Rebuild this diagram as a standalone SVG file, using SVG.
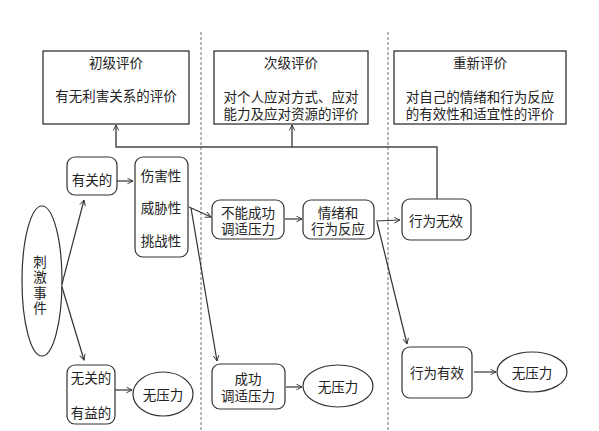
<svg xmlns="http://www.w3.org/2000/svg" width="599" height="431" viewBox="0 0 599 431">
<defs>
<marker id="arr" viewBox="0 0 10 10" refX="9" refY="5" markerWidth="7" markerHeight="7" orient="auto" markerUnits="userSpaceOnUse">
<path d="M1,1 L9,5 L1,9" fill="none" stroke="#333" stroke-width="1.3"/>
</marker>
</defs>
<style>
text{font-family:"Noto Sans CJK SC","Noto Sans CJK JP",sans-serif;font-size:13.5px;fill:#222;text-anchor:middle;dominant-baseline:central}
.vt{writing-mode:vertical-rl;letter-spacing:2px;dominant-baseline:central}
.box{fill:#fff;stroke:#222;stroke-width:1.2}
.rbox{fill:#fff;stroke:#333;stroke-width:1.2}
.ell{fill:#fff;stroke:#333;stroke-width:1.2}
.ln{fill:none;stroke:#333;stroke-width:1.2}
.fb{fill:none;stroke:#444;stroke-width:1.4}
.dash{stroke:#888;stroke-width:1.2;stroke-dasharray:3 2}
</style>
<rect width="599" height="431" fill="#fff"/>
<g id="dividers">
<line class="dash" x1="201" y1="32" x2="201" y2="431"/>
<line class="dash" x1="388" y1="32" x2="388" y2="431"/>
</g>
<g id="primary">
<rect class="box" x="43" y="51" width="146" height="73"/>
<text x="116" y="62">初级评价</text>
<text x="116" y="95">有无利害关系的评价</text>
</g>
<g id="secondary">
<rect class="box" x="214" y="51" width="154" height="73"/>
<text x="291" y="62">次级评价</text>
<text x="291" y="96">对个人应对方式、应对<tspan x="291" dy="17">能力及应对资源的评价</tspan></text>
</g>
<g id="reappraisal">
<rect class="box" x="394" y="51" width="172" height="73"/>
<text x="480" y="62">重新评价</text>
<text x="480" y="96">对自己的情绪和行为反应<tspan x="480" dy="17">的有效性和适宜性的评价</tspan></text>
</g>
<g id="stimulus">
<ellipse class="ell" cx="42" cy="281" rx="20" ry="75"/>
<text class="vt" x="40" y="286">刺激事件</text>
</g>
<g id="relevant">
<rect class="rbox" x="67" y="157" width="50" height="38" rx="8"/>
<text x="92" y="179">有关的</text>
</g>
<g id="harm">
<rect class="rbox" x="135" y="157" width="53" height="100" rx="8"/>
<text x="161" y="175">伤害性</text>
<text x="161" y="207">威胁性</text>
<text x="161" y="240">挑战性</text>
</g>
<g id="irrelevant">
<rect class="rbox" x="67" y="365" width="48" height="59" rx="8"/>
<text x="91" y="377">无关的</text>
<text x="91" y="412">有益的</text>
</g>
<g id="nostress1">
<ellipse class="ell" cx="163" cy="394" rx="30" ry="22"/>
<text x="163" y="394">无压力</text>
</g>
<g id="fail">
<rect class="rbox" x="212" y="200" width="72" height="39" rx="8"/>
<text x="248" y="212">不能成功<tspan x="248" dy="16">调适压力</tspan></text>
</g>
<g id="success">
<rect class="rbox" x="212" y="364" width="73" height="45" rx="8"/>
<text x="248" y="378">成功<tspan x="248" dy="17">调适压力</tspan></text>
</g>
<g id="nostress2">
<ellipse class="ell" cx="338" cy="386" rx="35" ry="21"/>
<text x="338" y="386">无压力</text>
</g>
<g id="emotion">
<rect class="rbox" x="303" y="200" width="71" height="39" rx="8"/>
<text x="338" y="212">情绪和<tspan x="338" dy="16">行为反应</tspan></text>
</g>
<g id="ineffective">
<rect class="rbox" x="402" y="199" width="69" height="41" rx="8"/>
<text x="436" y="220">行为无效</text>
</g>
<g id="effective">
<rect class="rbox" x="402" y="347" width="70" height="51" rx="8"/>
<text x="437" y="372">行为有效</text>
</g>
<g id="nostress3">
<ellipse class="ell" cx="532" cy="372" rx="35" ry="20"/>
<text x="532" y="372">无压力</text>
</g>
<g id="connectors">
<line class="ln" x1="62" y1="284" x2="84" y2="200" marker-end="url(#arr)"/>
<line class="ln" x1="62" y1="287" x2="84" y2="360" marker-end="url(#arr)"/>
<line class="ln" x1="117" y1="181" x2="133" y2="181" marker-end="url(#arr)"/>
<line class="ln" x1="115" y1="390" x2="132" y2="390" marker-end="url(#arr)"/>
<line class="ln" x1="189" y1="207" x2="211" y2="217" marker-end="url(#arr)"/>
<line class="ln" x1="191" y1="208" x2="217" y2="361" marker-end="url(#arr)"/>
<line class="ln" x1="285" y1="219" x2="302" y2="219" marker-end="url(#arr)"/>
<line class="ln" x1="286" y1="387" x2="302" y2="387" marker-end="url(#arr)"/>
<line class="ln" x1="376" y1="221" x2="400" y2="220" marker-end="url(#arr)"/>
<line class="ln" x1="377" y1="222" x2="407" y2="344" marker-end="url(#arr)"/>
<line class="ln" x1="474" y1="372" x2="496" y2="372" marker-end="url(#arr)"/>
<polyline class="fb" points="437,199 437,147 116,147 116,125" marker-end="url(#arr)"/>
<line class="fb" x1="292" y1="147" x2="292" y2="125" marker-end="url(#arr)"/>
</g>
</svg>
